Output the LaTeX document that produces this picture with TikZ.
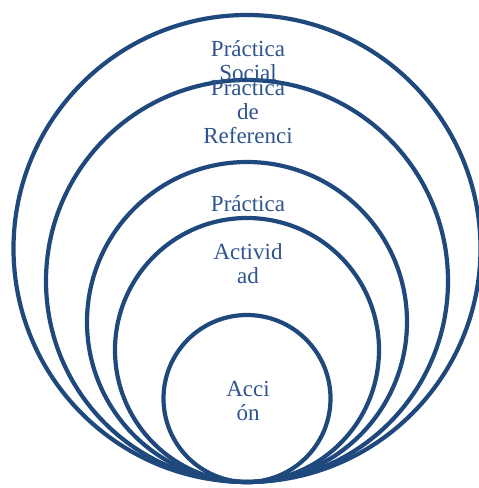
\documentclass[tikz,border=0pt]{standalone}
\usepackage{fontspec}
\setmainfont{Liberation Serif}
\usepackage{xcolor}
\usetikzlibrary{calc}
\definecolor{ringblue}{RGB}{31,73,125}
\definecolor{labelblue}{RGB}{47,84,140}

\begin{document}
\begin{tikzpicture}[x=1pt,y=-1pt,
    ring/.style={ringblue, line width=4.2pt},
    lbl/.style={labelblue, align=center, anchor=base, inner sep=0pt,
        font=\fontsize{23}{24}\selectfont}]
                \useasboundingbox (0,0) rectangle (479,488);
                \coordinate (tip) at (247,482);
                % nested rings, all touching at the bottom
                \draw[ring] ($(tip)+(0,-233.5)$) circle (233.5);
                \draw[ring] ($(tip)+(0,-201)$) circle (201);
                \draw[ring] ($(tip)+(0,-160)$) circle (160);
                \draw[ring] ($(tip)+(0,-132)$) circle (132);
                \draw[ring] ($(tip)+(0,-83.5)$) circle (83.5);
                % labels (placed by the baseline of their last line)
                \node[lbl] (social) at (248,80) {Práctica\\Social};
                \node[lbl] (referencia) at (248,143) {Práctica\\de\\Referenci};
                \node[lbl] (practica) at (248,211) {Práctica};
                \node[lbl] (actividad) at (248,283) {Activid\\ad};
                \node[lbl] (accion) at (248,420) {Acci\\ón};
\end{tikzpicture}
\end{document}
